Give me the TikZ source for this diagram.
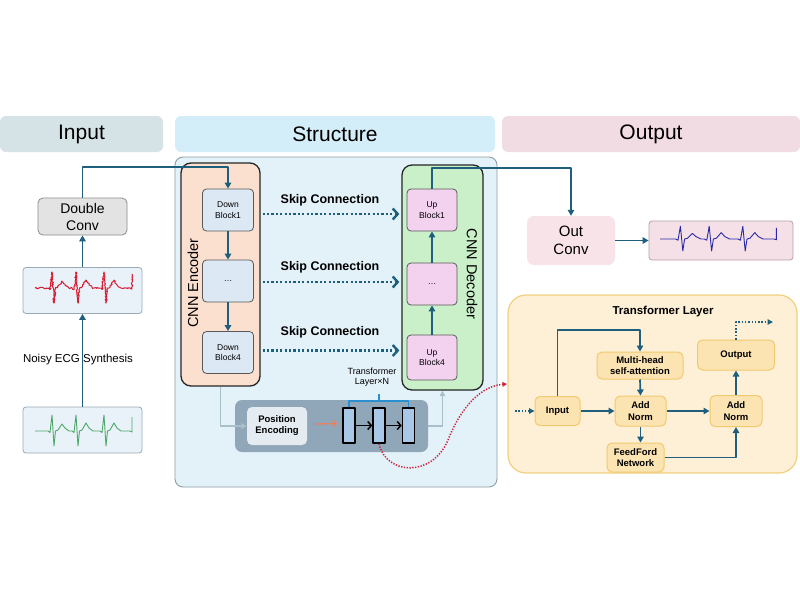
\documentclass[tikz,border=0pt]{standalone}
\usepackage{fontspec}
\setmainfont{Liberation Sans}
\usetikzlibrary{arrows.meta,decorations.pathmorphing,calc}
\definecolor{teal1}{HTML}{1F5F7E}
\definecolor{hin}{HTML}{D5E3E6}
\definecolor{hst}{HTML}{D4EEF9}
\definecolor{hout}{HTML}{F2DCE3}
\definecolor{stfill}{HTML}{E3F1F9}
\definecolor{stdraw}{HTML}{8E9CA6}
\definecolor{encfill}{HTML}{FCE0CF}
\definecolor{decfill}{HTML}{C9F0C9}
\definecolor{dbfill}{HTML}{DCE8F4}
\definecolor{ubfill}{HTML}{F3D2F0}
\definecolor{darkbox}{HTML}{8FA7B8}
\definecolor{pefill}{HTML}{E4ECF1}
\definecolor{barfill}{HTML}{A9C7E7}
\definecolor{brblue}{HTML}{2A8FD0}
\definecolor{gline}{HTML}{A9C0CB}
\definecolor{redd}{HTML}{D0203A}
\definecolor{orar}{HTML}{E8825A}
\definecolor{tpfill}{HTML}{FDF0D6}
\definecolor{tpdraw}{HTML}{F2CF80}
\definecolor{tbfill}{HTML}{FCE4B2}
\definecolor{tbdraw}{HTML}{F1C96F}
\definecolor{dcfill}{HTML}{E3E3E3}
\definecolor{ecgfill}{HTML}{E9F2F8}
\definecolor{ecgdraw}{HTML}{9AAAB5}
\definecolor{ocfill}{HTML}{F8E3E9}
\definecolor{eofill}{HTML}{F4E0E6}
\definecolor{eodraw}{HTML}{B9A0AA}
\definecolor{ecggreen}{HTML}{4FA66A}
\definecolor{ecgblue}{HTML}{2A2AA8}
\newcommand{\ecgdraw}[1]{\draw[#1] (0,0) -- (13,0) -- (15,1.5) -- (17,-16) -- (19,15) -- (20.5,0) -- (23,-1) -- (27,-7) -- (30,-3) -- (34,0) -- (37,0) -- (39,1.5) -- (41,-16) -- (43,15) -- (44.5,0) -- (47,-1) -- (51,-8) -- (54,-3) -- (58,0) -- (65,0) -- (67,1.5) -- (69,-16) -- (71,15) -- (72.5,0) -- (75,-1) -- (79,-8) -- (82,-3) -- (86,0) -- (95,0) -- (97,1) -- (97,-14);}
\begin{document}
\begin{tikzpicture}[x=1pt,y=-1pt,line join=round,
  hdr/.style={rounded corners=6pt, inner sep=0pt, font=\fontsize{21}{25}\selectfont, minimum height=36pt},
  tarr/.style={draw=teal1, line width=1.7pt, -{Triangle[length=6pt,width=6.5pt]}},
  skiparr/.style={draw=teal1, line width=2.8pt, dash pattern=on 2.2pt off 2.2pt, -{Straight Barb[length=5pt,width=11pt,line width=2.4pt]}},
  skiplbl/.style={font=\bfseries\fontsize{12.5}{14}\selectfont},
  dblk/.style={draw=black!65, fill=dbfill, rounded corners=4pt, minimum width=51pt, minimum height=42pt, inner sep=0pt, align=center, font=\fontsize{8.5}{10.5}\selectfont, line width=.8pt},
  ublk/.style={dblk, fill=ubfill},
  bigbox/.style={draw=black!85, rounded corners=10pt, line width=1.3pt, inner sep=0pt},
  bar/.style={draw=black, fill=barfill, line width=1.5pt, minimum width=12pt, minimum height=35pt, inner sep=0pt},
  glinearr/.style={draw=gline, line width=1.5pt, -{Triangle[length=5.5pt,width=5.5pt]}},
  tbox/.style={draw=tbdraw, fill=tbfill, rounded corners=5pt, inner sep=0pt, align=center, font=\bfseries\fontsize{9.5}{11.5}\selectfont, line width=1pt},
  ecgbox/.style={draw=ecgdraw, fill=ecgfill, rounded corners=3pt, minimum width=119pt, minimum height=46pt, inner sep=0pt, line width=.8pt},
  dotarr/.style={draw=teal1, line width=1.5pt, dash pattern=on 1.5pt off 1.8pt, -{Triangle[length=5.5pt,width=5.5pt]}}
]
\useasboundingbox (0,0) rectangle (800,600);
\fill[white] (0,0) rectangle (800,600);

% headers
\node[hdr, fill=hin, minimum width=163pt] (hInput) at (81.5,134) {Input};
\node[hdr, fill=hst, minimum width=320pt] (hStruct) at (335,134) {Structure};
\node[hdr, fill=hout, minimum width=298pt] (hOutput) at (651,134) {Output};

% structure main box
\node[draw=stdraw, fill=stfill, rounded corners=8pt, minimum width=322pt, minimum height=330pt, line width=.9pt, inner sep=0pt] (stbox) at (336,322) {};

% encoder / decoder
\node[bigbox, fill=encfill, minimum width=79pt, minimum height=223pt] (enc) at (220.5,274.5) {};
\node[bigbox, fill=decfill, minimum width=81pt, minimum height=225pt] (dec) at (442.5,277.5) {};
\node[rotate=90, font=\fontsize{14.5}{17}\selectfont] (enclbl) at (193,283) {CNN Encoder};
\node[rotate=-90, font=\fontsize{14.5}{17}\selectfont] (declbl) at (472,274) {CNN Decoder};

\node[dblk] (db1) at (228,210) {Down\\Block1};
\node[dblk] (db2) at (228,281) {\dots};
\node[dblk] (db4) at (228,352.5) {Down\\Block4};
\node[ublk, minimum width=50pt] (ub1) at (432,210) {Up\\Block1};
\node[ublk, minimum width=50pt] (ub2) at (432,284) {\dots};
\node[ublk, minimum width=50pt, minimum height=45pt] (ub4) at (432,357.5) {Up\\Block4};

\draw[tarr] (db1.south) -- (db2.north);
\draw[tarr] (db2.south) -- (db4.north);
\draw[tarr] (ub4.north) -- (ub2.south);
\draw[tarr] (ub2.north) -- (ub1.south);

% skip connections
\draw[skiparr] (enc.east |- db1) ++(2,4) -- ($(dec.west |- db1)+(-2,4)$);
\draw[skiparr] (enc.east |- db2) ++(2,1) -- ($(dec.west |- db2)+(-2,1)$);
\draw[skiparr] (enc.east |- db4) ++(2,-2) -- ($(dec.west |- db4)+(-2,-2)$);
\node[skiplbl] (sk1) at (330,200) {Skip Connection};
\node[skiplbl] (sk2) at (330,267) {Skip Connection};
\node[skiplbl] (sk3) at (330,332) {Skip Connection};

% transformer strip
\node[fill=darkbox, rounded corners=7pt, minimum width=193pt, minimum height=52pt, inner sep=0pt] (dark) at (331.5,426) {};
\node[fill=pefill, rounded corners=5pt, minimum width=60pt, minimum height=38pt, inner sep=0pt, align=center, font=\bfseries\fontsize{9.5}{11}\selectfont] (pe) at (277,426) {Position\\Encoding};
\node[bar] (bar1) at (349,425.5) {};
\node[bar] (bar2) at (379,425.5) {};
\node[bar] (bar3) at (408.5,425.5) {};
\draw[draw=orar, line width=1.3pt, -{Straight Barb[length=3.5pt,width=7pt]}] (pe.east) ++(8,-2) -- ($(bar1.west)+(-5,-2)$);
\draw[line width=1.5pt, -{Straight Barb[length=3.5pt,width=8pt,line width=1.5pt]}] (bar1.east) -- (bar2.west);
\draw[line width=1.5pt, -{Straight Barb[length=3.5pt,width=8pt,line width=1.5pt]}] (bar2.east) -- (bar3.west);
\coordinate (brk) at (0,401);
\draw[brblue, line width=1.2pt] (bar1.north) -- (bar1.north |- brk) -- (bar3.north |- brk) -- (bar3.north);
\coordinate (brt) at (0,394);
\draw[brblue, line width=1.2pt] (bar2.north |- brk) -- (bar2.north |- brt);
\node[font=\fontsize{9}{10}\selectfont, align=center, inner sep=0pt] (tlx) at (372,377) {Transformer\\Layer×N};

\draw[glinearr] (enc.south) |- (pe.west);
\draw[glinearr] (dark.east) -| (dec.south);

% red dotted curve
\draw[redd, line width=1.5pt, dash pattern=on 1.3pt off 1.5pt, -{Triangle[length=4.5pt,width=4.5pt]}] (bar2.south) .. controls (386,475) and (432,478) .. (448,440) .. controls (462,405) and (482,386) .. (507,384);

% input column
\node[draw=black!45, fill=dcfill, rounded corners=5pt, minimum width=89pt, minimum height=37pt, inner sep=0pt, align=center, font=\fontsize{14}{17}\selectfont, line width=.8pt] (dc) at (82.5,216.5) {Double\\Conv};
\node[ecgbox] (noisy) at (82.5,290.5) {};
\node[ecgbox] (clean) at (82.5,430) {};
\ecgdraw{redd!90!red, line width=1pt, shift={(35,288)}, decorate, decoration={random steps, segment length=1pt, amplitude=0.8pt}}
\ecgdraw{ecggreen, line width=.9pt, shift={(35,431)}}
\draw[tarr] (clean.north) -- (noisy.south);
\draw[tarr] (noisy.north) -- (dc.south);
\node[font=\fontsize{11.5}{13}\selectfont] (nes) at (78,360) {Noisy ECG Synthesis};

\coordinate (jl) at (0,167);
\draw[tarr] (dc.north) -- (dc.north |- jl) -| (db1.north);

% output column
\node[fill=ocfill, rounded corners=7pt, minimum width=88pt, minimum height=49pt, inner sep=0pt, align=center, font=\fontsize{15}{18}\selectfont] (oc) at (571,240.5) {Out\\Conv};
\node[draw=eodraw, fill=eofill, rounded corners=3pt, minimum width=144pt, minimum height=39pt, inner sep=0pt, line width=.8pt] (eout) at (721,240.5) {};
\ecgdraw{ecgblue, line width=.9pt, shift={(660,239)}, xscale=1.2, yscale=0.8}
\draw[tarr] (oc.east) -- (eout.west);
\coordinate (jr) at (0,168);
\draw[tarr] (ub1.north) -- (ub1.north |- jr) -| (oc.north);

% transformer layer panel
\node[draw=tpdraw, fill=tpfill, rounded corners=18pt, minimum width=289pt, minimum height=178pt, inner sep=0pt, line width=1.2pt] (tpanel) at (652.5,384) {};
\node[font=\bfseries\fontsize{11.5}{13}\selectfont] (tptitle) at (663,312) {Transformer Layer};
\node[tbox, minimum width=45pt, minimum height=29pt] (inp) at (557.5,411) {Input};
\node[tbox, minimum width=86pt, minimum height=27pt] (mh) at (640,365.5) {Multi-head\\self-attention};
\node[tbox, minimum width=51pt, minimum height=30pt] (an1) at (640.5,411) {Add\\Norm};
\node[tbox, minimum width=57pt, minimum height=29pt] (ff) at (635.5,457.5) {FeedFord\\Network};
\node[tbox, minimum width=52pt, minimum height=31pt] (an2) at (736,411) {Add\\Norm};
\node[tbox, minimum width=77pt, minimum height=30pt] (outb) at (736,355) {Output};

\coordinate (jt) at (0,330);
\draw[tarr] (inp.east) -- (an1.west);
\draw[tarr] (inp.north) -- (inp.north |- jt) -| (mh.north);
\draw[tarr] (mh.south) -- (an1.north);
\draw[tarr] (an1.east) -- (an2.west);
\draw[tarr] (an1.south) -- (an1.south |- ff.north);
\draw[tarr] (ff.east) -| (an2.south);
\draw[tarr] (an2.north) -- (outb.south);
\coordinate (jo) at (773,322);
\draw[dotarr] (outb.north) |- (jo);
\coordinate (jin) at (515,411);
\draw[dotarr] (jin) -- (inp.west);
\end{tikzpicture}
\end{document}
